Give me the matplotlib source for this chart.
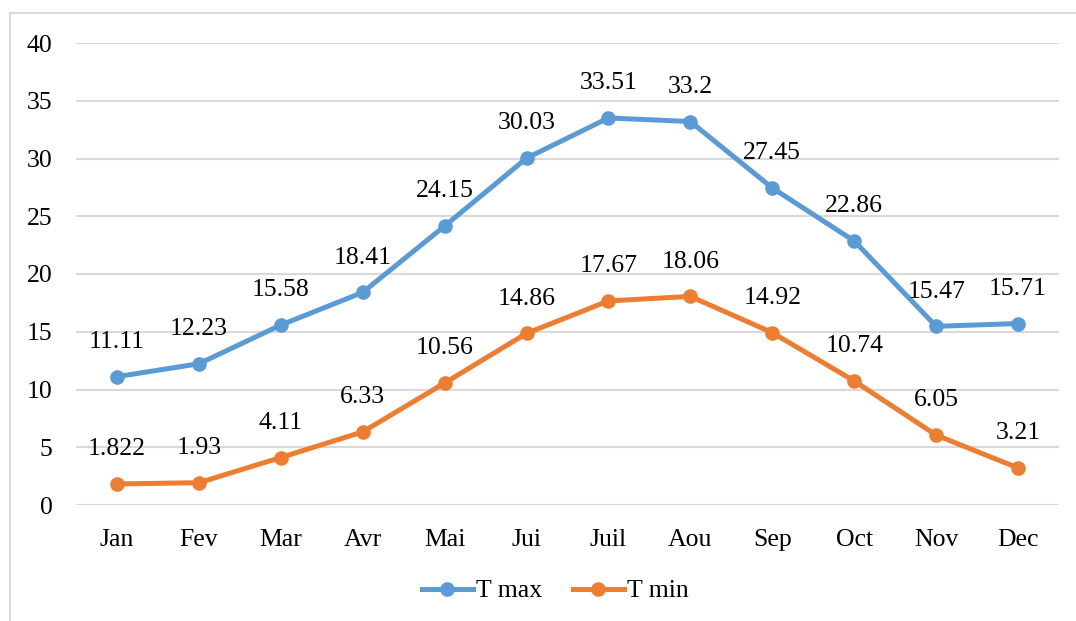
import matplotlib.pyplot as plt
from matplotlib.lines import Line2D

plt.rcParams["font.family"] = ["Liberation Serif", "DejaVu Serif"]

months = ["Jan", "Fev", "Mar", "Avr", "Mai", "Jui", "Juil", "Aou", "Sep", "Oct", "Nov", "Dec"]
t_max = [11.11, 12.23, 15.58, 18.41, 24.15, 30.03, 33.51, 33.2, 27.45, 22.86, 15.47, 15.71]
t_min = [1.822, 1.93, 4.11, 6.33, 10.56, 14.86, 17.67, 18.06, 14.92, 10.74, 6.05, 3.21]
max_labels = ["11.11", "12.23", "15.58", "18.41", "24.15", "30.03", "33.51", "33.2", "27.45", "22.86", "15.47", "15.71"]
min_labels = ["1.822", "1.93", "4.11", "6.33", "10.56", "14.86", "17.67", "18.06", "14.92", "10.74", "6.05", "3.21"]
y_ticks = [0, 5, 10, 15, 20, 25, 30, 35, 40]

BLUE = "#5B9BD5"
ORANGE = "#ED7D31"
GRID = "#D9D9D9"
FS = 18.5

fig = plt.figure(figsize=(10.76, 6.21), dpi=100)
ax = fig.add_axes([76 / 1076, 1 - 505 / 621, (1059 - 76) / 1076, (505 - 43) / 621])

# outer chart frame (only left and top edges visible)
fig.add_artist(Line2D([10 / 1076, 10 / 1076], [0, 1 - 13 / 621], color=GRID, lw=1.5, transform=fig.transFigure))
fig.add_artist(Line2D([10 / 1076, 1], [1 - 13 / 621, 1 - 13 / 621], color=GRID, lw=1.5, transform=fig.transFigure))

x = list(range(len(months)))
ax.plot(x, t_max, color=BLUE, lw=3.6, marker="o", ms=9.5, label="T max", zorder=3)
ax.plot(x, t_min, color=ORANGE, lw=3.6, marker="o", ms=9.5, label="T min", zorder=3)

for xi, v, lab in zip(x, t_max, max_labels):
    ax.annotate(lab, (xi, v), xytext=(0, 25), textcoords="offset points",
                ha="center", va="center", fontsize=FS, color="black")
for xi, v, lab in zip(x, t_min, min_labels):
    ax.annotate(lab, (xi, v), xytext=(0, 25), textcoords="offset points",
                ha="center", va="center", fontsize=FS, color="black")

ax.set_xlim(-0.5, len(months) - 0.5)
ax.set_ylim(0, 40)
ax.set_yticks(y_ticks)
ax.set_xticks(x)
ax.set_xticklabels(months)
ax.tick_params(axis="both", length=0, labelsize=FS, colors="black")
ax.tick_params(axis="y", pad=17)
ax.tick_params(axis="x", pad=17)
ax.grid(axis="y", color=GRID, lw=1.5)
ax.set_axisbelow(True)
for s in ax.spines.values():
    s.set_visible(False)

leg = fig.legend(loc="center", bbox_to_anchor=(555 / 1076, 1 - 591 / 621), ncol=2,
                 frameon=False, fontsize=FS, handlelength=2.0, handletextpad=0.1,
                 columnspacing=1.2)

fig.savefig("out.png", dpi=100)
